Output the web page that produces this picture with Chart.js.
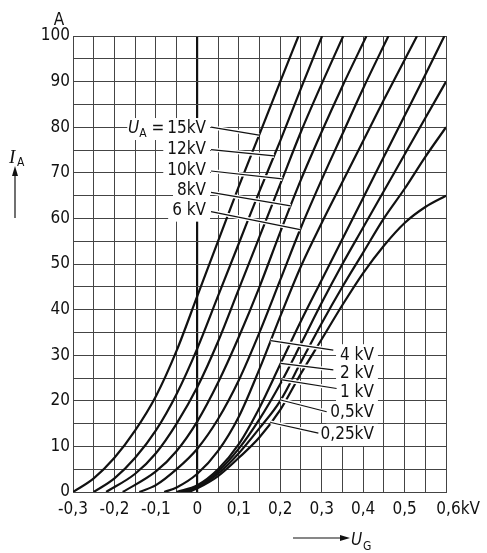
<!DOCTYPE html>
<html>
<head>
<meta charset="utf-8">
<script src="https://cdn.jsdelivr.net/npm/chart.js@4.4.1/dist/chart.umd.min.js"></script>
<style>
  html, body { margin: 0; padding: 0; background: #fff; }
</style>
</head>
<body>
<canvas id="tubeChart" width="487" height="553"></canvas>
<script>
const FONT = '"DejaVu Sans Condensed", "Liberation Sans", sans-serif';
const FS = 17;

// anode current I_A (A) over grid voltage U_G (kV), one list per anode voltage U_A
const ua15 = [[-0.3,0],[-0.25,3],[-0.2,7.5],[-0.15,13.5],[-0.1,21],[-0.05,31],[0,43],[0.05,55],[0.1,67],[0.15,78.5],[0.2,90],[0.244,100]];
const ua12 = [[-0.25,0],[-0.2,3],[-0.15,7.5],[-0.1,13.5],[-0.05,21.5],[0,31.5],[0.05,43],[0.1,54.5],[0.15,66],[0.2,77],[0.25,88.5],[0.301,100]];
const ua10 = [[-0.22,0],[-0.15,4],[-0.1,8.5],[-0.05,15],[0,23],[0.05,33],[0.1,44.5],[0.15,56],[0.2,67.5],[0.25,79],[0.3,89.5],[0.352,100]];
const ua8  = [[-0.18,0],[-0.1,4.5],[-0.05,9],[0,15.5],[0.05,24],[0.1,34],[0.15,45],[0.2,57],[0.25,68.5],[0.3,79],[0.35,89],[0.408,100]];
const ua6  = [[-0.14,0],[-0.1,1.5],[-0.05,5],[0,9.5],[0.05,16],[0.1,24.5],[0.15,35],[0.2,46.5],[0.25,58],[0.3,68.5],[0.35,78.5],[0.4,88.5],[0.461,100]];
const ua4  = [[-0.08,0],[-0.05,1],[0,4],[0.05,9],[0.1,16.5],[0.15,27],[0.2,38.5],[0.25,49.5],[0.3,59],[0.35,68],[0.4,77],[0.45,86],[0.53,100]];
const ua2  = [[-0.05,0],[0,1.5],[0.05,5],[0.1,10.5],[0.15,18.5],[0.2,28],[0.25,37.5],[0.3,46.5],[0.35,55.5],[0.4,64.5],[0.45,73.5],[0.5,82.5],[0.55,91.5],[0.596,100]];
const ua1  = [[-0.04,0],[0,1.2],[0.05,4.5],[0.1,9.5],[0.15,16],[0.2,23.7],[0.25,32.5],[0.3,41.5],[0.35,50],[0.4,58],[0.45,66],[0.5,74],[0.55,82],[0.6,90]];
const ua05 = [[-0.03,0],[0,1],[0.05,4],[0.1,8.5],[0.15,14],[0.2,20],[0.25,28.5],[0.3,37],[0.35,45],[0.4,52.5],[0.45,60],[0.5,66.5],[0.55,73.5],[0.6,80]];
const ua025 = [[-0.02,0],[0,0.8],[0.05,3.5],[0.1,7.5],[0.15,12],[0.2,18],[0.25,26],[0.3,33.5],[0.35,41],[0.4,48],[0.45,54],[0.5,59],[0.55,62.5],[0.6,65]];

const curves = [ua15, ua12, ua10, ua8, ua6, ua4, ua2, ua1, ua05, ua025];
const curveLabels = ['15kV', '12kV', '10kV', '8kV', '6 kV', '4 kV', '2 kV', '1 kV', '0,5kV', '0,25kV'];
// U_G where each label's leader touches its curve
const leaderTargets = [0.149, 0.185, 0.205, 0.225, 0.248, 0.177, 0.201, 0.205, 0.201, 0.177];

const ugRange = [-0.3, 0.6];
const iaRange = [0, 100];

// label placement (data units): text edge u, centre a, leader start lu/la
const labelPos = [
  { u: 0.021, a: 79.6, lu: 0.033, la: 80.0 },
  { u: 0.021, a: 75.2, lu: 0.033, la: 75.1 },
  { u: 0.021, a: 70.5, lu: 0.033, la: 70.4 },
  { u: 0.021, a: 66.1, lu: 0.033, la: 65.7 },
  { u: 0.021, a: 61.7, lu: 0.033, la: 61.5 },
  { u: 0.426, a: 30.0, lu: 0.328, la: 31.1 },
  { u: 0.426, a: 25.9, lu: 0.328, la: 26.8 },
  { u: 0.426, a: 21.7, lu: 0.336, la: 22.7 },
  { u: 0.426, a: 17.5, lu: 0.312, la: 17.6 },
  { u: 0.426, a: 12.5, lu: 0.292, la: 12.9 }
];

function valueAt(curve, u) {
  for (let i = 1; i < curve.length; i++) {
    if (u <= curve[i][0]) {
      const [u0, a0] = curve[i - 1], [u1, a1] = curve[i];
      return a0 + (a1 - a0) * (u - u0) / (u1 - u0);
    }
  }
  return curve[curve.length - 1][1];
}

function fmtUg(v) {
  const r = Math.round(v * 100);
  if (r % 10 !== 0) return '';
  if (r === 0) return '0';
  const s = (r / 100).toFixed(1).replace('.', ',');
  return r === 60 ? '     ' + s + 'kV' : s;
}

const notes = {
  id: 'notes',
  beforeDatasetsDraw(chart) {
    const { ctx, scales: { x, y } } = chart;
    ctx.save();
    ctx.font = FS + 'px ' + FONT;
    ctx.fillStyle = '#fff';
    labelPos.forEach((p, i) => {
      const w = ctx.measureText(curveLabels[i]).width + (i === 0 ? 36 : 0);
      const px = x.getPixelForValue(p.u), py = y.getPixelForValue(p.a);
      ctx.fillRect(px - w - 4, py - 11, w + 8, 22);
    });
    ctx.restore();
  },
  afterDatasetsDraw(chart) {
    const { ctx, scales: { x, y } } = chart;
    ctx.save();
    // leaders with a white halo so crossed curves look broken
    labelPos.forEach((p, i) => {
      const tu = leaderTargets[i];
      const x0 = x.getPixelForValue(p.lu), y0 = y.getPixelForValue(p.la);
      const x1 = x.getPixelForValue(tu), y1 = y.getPixelForValue(valueAt(curves[i], tu));
      ctx.lineCap = 'butt';
      ctx.strokeStyle = '#fff';
      ctx.lineWidth = 4;
      ctx.beginPath(); ctx.moveTo(x0, y0); ctx.lineTo(x1, y1); ctx.stroke();
      ctx.strokeStyle = '#111';
      ctx.lineWidth = 1.2;
      ctx.beginPath(); ctx.moveTo(x0, y0); ctx.lineTo(x1, y1); ctx.stroke();
    });
    ctx.fillStyle = '#111';
    ctx.textBaseline = 'middle';
    labelPos.forEach((p, i) => {
      const px = x.getPixelForValue(p.u), py = y.getPixelForValue(p.a);
      ctx.font = FS + 'px ' + FONT;
      ctx.textAlign = 'right';
      ctx.fillText(curveLabels[i], px, py);
      if (i === 0) {
        let cx = px - ctx.measureText(curveLabels[i]).width - 3;
        ctx.fillText('=', cx, py);
        cx -= ctx.measureText('= ').width;
        ctx.font = '12px ' + FONT;
        ctx.fillText('A', cx, py + 5);
        cx -= ctx.measureText('A').width;
        ctx.font = 'italic ' + FS + 'px ' + FONT;
        ctx.fillText('U', cx, py);
      }
    });
    ctx.restore();
  },
  afterDraw(chart) {
    const { ctx } = chart;
    ctx.save();
    ctx.fillStyle = '#111';
    ctx.strokeStyle = '#111';
    ctx.textBaseline = 'alphabetic';
    // unit above the y axis
    ctx.font = FS + 'px ' + FONT;
    ctx.textAlign = 'center';
    ctx.fillText('A', 59, 25);
    // I_A with upward arrow
    ctx.textAlign = 'left';
    ctx.font = 'italic 19px "Liberation Serif", serif';
    ctx.fillText('I', 9, 163);
    ctx.font = '12px ' + FONT;
    ctx.fillText('A', 17, 166);
    ctx.lineWidth = 1.2;
    ctx.beginPath(); ctx.moveTo(15, 218); ctx.lineTo(15, 174); ctx.stroke();
    ctx.beginPath(); ctx.moveTo(15, 166); ctx.lineTo(12, 176); ctx.lineTo(18, 176); ctx.closePath(); ctx.fill();
    // U_G with arrow to the right
    ctx.beginPath(); ctx.moveTo(293, 538); ctx.lineTo(342, 538); ctx.stroke();
    ctx.beginPath(); ctx.moveTo(350, 538); ctx.lineTo(340, 535); ctx.lineTo(340, 541); ctx.closePath(); ctx.fill();
    ctx.font = 'italic ' + FS + 'px ' + FONT;
    ctx.fillText('U', 351, 545);
    ctx.font = '12px ' + FONT;
    ctx.fillText('G', 363, 550);
    ctx.restore();
  }
};

const ctx = document.getElementById('tubeChart').getContext('2d');
const tubeChart = new Chart(ctx, {
  type: 'line',
  data: {
    datasets: curves.map((c, i) => ({
      label: curveLabels[i],
      data: c.map(([u, a]) => ({ x: u, y: a })),
      borderColor: '#111',
      borderWidth: 2.2,
      pointRadius: 0,
      fill: false,
      cubicInterpolationMode: 'monotone'
    }))
  },
  options: {
    responsive: false,
    animation: false,
    devicePixelRatio: 1,
    layout: { padding: { top: 36, right: 36, left: 0, bottom: 0 } },
    plugins: {
      legend: { display: false },
      tooltip: { enabled: false }
    },
    scales: {
      x: {
        type: 'linear',
        min: ugRange[0],
        max: ugRange[1],
        afterFit(scale) { scale.height = 61; },
        border: { display: true, color: '#444', width: 1 },
        grid: {
          drawTicks: false,
          color: c => Math.abs(c.tick.value) < 1e-6 ? '#111' : '#444',
          lineWidth: c => Math.abs(c.tick.value) < 1e-6 ? 2.2 : 1
        },
        ticks: {
          stepSize: 0.05,
          autoSkip: false,
          maxRotation: 0,
          padding: 7,
          color: '#111',
          font: { family: FONT, size: FS },
          callback: v => fmtUg(v)
        }
      },
      y: {
        min: iaRange[0],
        max: iaRange[1],
        afterFit(scale) { scale.width = 73; },
        border: { display: true, color: '#444', width: 1 },
        grid: { drawTicks: false, color: '#444', lineWidth: 1 },
        ticks: {
          stepSize: 5,
          autoSkip: false,
          padding: 3,
          color: '#111',
          font: { family: FONT, size: FS },
          callback: v => (v % 10 === 0 ? String(v) : '')
        }
      }
    }
  },
  plugins: [notes]
});
</script>
</body>
</html>
